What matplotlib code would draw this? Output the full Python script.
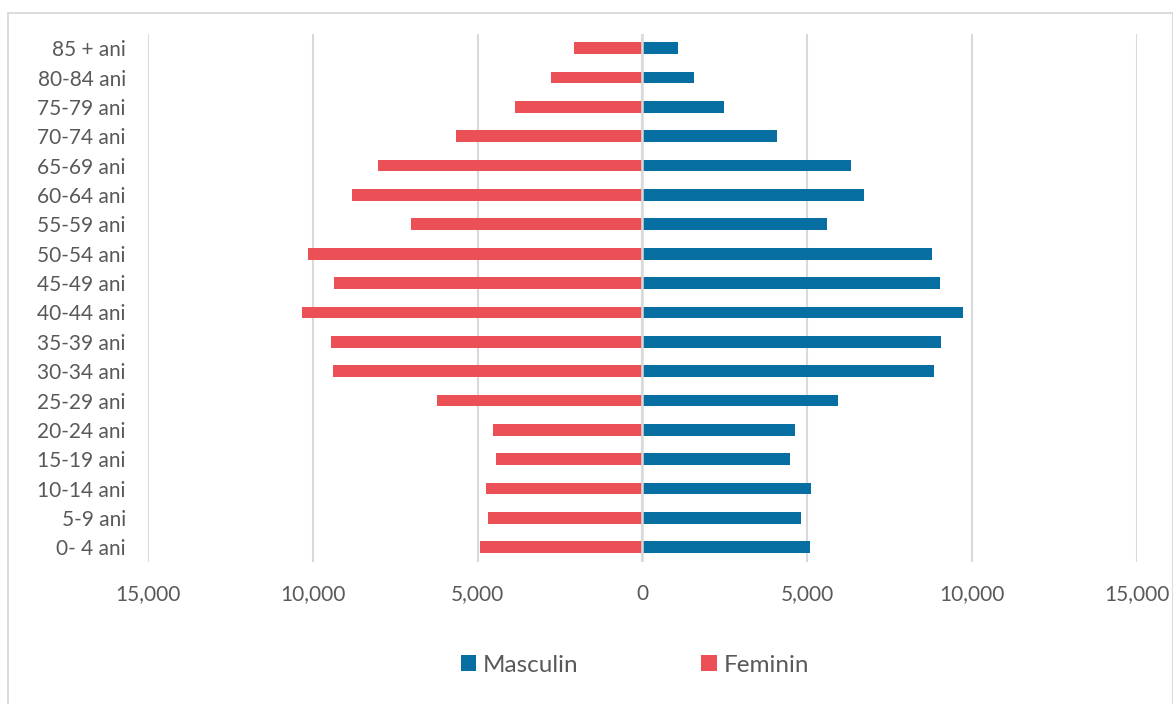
import matplotlib
matplotlib.use("Agg")
import matplotlib.pyplot as plt
from matplotlib.patches import Patch
from matplotlib.ticker import FuncFormatter, MultipleLocator

plt.rcParams['font.family'] = ['Lato', 'DejaVu Sans']

# Age groups, youngest first (drawn bottom to top)
age_groups = ["0- 4 ani", "5-9 ani", "10-14 ani", "15-19 ani", "20-24 ani",
              "25-29 ani", "30-34 ani", "35-39 ani", "40-44 ani", "45-49 ani",
              "50-54 ani", "55-59 ani", "60-64 ani", "65-69 ani", "70-74 ani",
              "75-79 ani", "80-84 ani", "85 + ani"]

masculin = [5070, 4810, 5120, 4490, 4620, 5940, 8860, 9050, 9740, 9030,
            8800, 5610, 6730, 6320, 4070, 2490, 1570, 1085]

feminin = [4940, 4670, 4760, 4440, 4540, 6230, 9390, 9440, 10330, 9370,
           10150, 7020, 8810, 8030, 5670, 3870, 2770, 2085]

BLUE = "#066EA0"
RED = "#EA5056"
GRID = "#D9D9D9"
TEXT = "#595959"

fig = plt.figure(figsize=(11.73, 7.04), dpi=100)

# outer chart frame
frame = plt.Rectangle((8 / 1173, -0.1), (1172.5 - 8) / 1173, 1.1 - 13 / 704,
                      transform=fig.transFigure, fill=False,
                      edgecolor=GRID, linewidth=1.3, zorder=0)
fig.add_artist(frame)

ax = fig.add_axes([148 / 1173, 1 - 562 / 704, (1136.8 - 148) / 1173, (562 - 33.5) / 704])

y = list(range(len(age_groups)))
ax.barh(y, masculin, height=0.4, color=BLUE, zorder=2, label="Masculin")
ax.barh(y, [-v for v in feminin], height=0.4, color=RED, zorder=2, label="Feminin")

ax.set_xlim(-15000, 15000)
ax.set_ylim(-0.5, len(age_groups) - 0.5)
ax.xaxis.set_major_locator(MultipleLocator(5000))
ax.xaxis.set_major_formatter(FuncFormatter(lambda v, p: f"{abs(int(round(v))):,}"))
ax.set_yticks(y)
ax.set_yticklabels(age_groups)

ax.grid(axis="x", color=GRID, linewidth=1.5, zorder=0)
ax.set_axisbelow(True)
ax.axvline(0, color=GRID, linewidth=1.8, zorder=3)

for s in ax.spines.values():
    s.set_visible(False)
ax.tick_params(axis="both", length=0, labelsize=15, labelcolor=TEXT)
ax.tick_params(axis="x", pad=16)
ax.tick_params(axis="y", pad=16)

handles = [Patch(facecolor=BLUE, label="Masculin"), Patch(facecolor=RED, label="Feminin")]
fig.legend(handles=handles, loc="center", bbox_to_anchor=(635 / 1173, 1 - 665 / 704),
           ncol=2, frameon=False, fontsize=17.5, labelcolor=TEXT,
           handlelength=0.62, handleheight=0.62, handletextpad=0.3, columnspacing=5.05)

fig.savefig("out.png", dpi=100)
